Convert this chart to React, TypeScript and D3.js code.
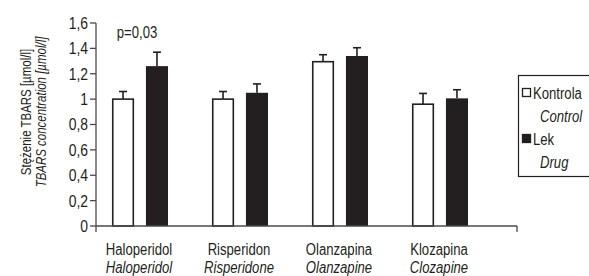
import React, { useRef, useEffect } from 'react';
import * as d3 from 'd3';

const drugsPl: string[] = ['Haloperidol', 'Risperidon', 'Olanzapina', 'Klozapina'];
const drugsEn: string[] = ['Haloperidol', 'Risperidone', 'Olanzapine', 'Clozapine'];
const seriesNames: string[] = ['Kontrola', 'Lek'];
const seriesNamesEn: string[] = ['Control', 'Drug'];
const controlValues: number[] = [1.0, 1.0, 1.295, 0.96];
const controlErrors: number[] = [0.06, 0.06, 0.055, 0.085];
const drugValues: number[] = [1.26, 1.05, 1.34, 1.006];
const drugErrors: number[] = [0.11, 0.07, 0.065, 0.068];
const yTicks: number[] = [0, 0.2, 0.4, 0.6, 0.8, 1, 1.2, 1.4, 1.6];

const FONT = '"Liberation Sans", Arial, sans-serif';
const NARROW = 0.82; // 좁은 글꼴 흉내

const App: React.FC = () => {
  const svgRef = useRef<SVGSVGElement | null>(null);

  useEffect(() => {
    if (svgRef.current) {
      const width = 589;
      const height = 276;
      const axisLeft = 96;
      const axisRight = 517;
      const ink = '#231f20';

      const svg = d3.select(svgRef.current)
        .attr('width', width)
        .attr('height', height)
        .style('font-family', FONT);

      svg.selectAll('*').remove();

      // 스케일
      const y = d3.scaleLinear().domain([0, 1.6]).range([226, 23]);
      const x0 = d3.scaleBand<string>().domain(drugsPl).range([96, 496]);
      const x1 = d3.scaleBand<string>().domain(seriesNames).range([16, 72]).paddingInner(0.35);

      const rows = drugsPl.map((d, i) => ({
        drug: d,
        items: [
          { key: seriesNames[0], value: controlValues[i], err: controlErrors[i] },
          { key: seriesNames[1], value: drugValues[i], err: drugErrors[i] },
        ],
      }));

      const groups = svg.append('g')
        .selectAll('g')
        .data(rows)
        .join('g')
        .attr('transform', d => `translate(${x0(d.drug)},0)`);

      // 에러바
      groups.selectAll('g.err')
        .data(d => d.items)
        .join('g')
        .attr('class', 'err')
        .each(function (d) {
          const cx = (x1(d.key) as number) + x1.bandwidth() / 2;
          const g = d3.select(this);
          g.append('line')
            .attr('x1', cx).attr('x2', cx)
            .attr('y1', y(d.value)).attr('y2', y(d.value + d.err))
            .attr('stroke', ink).attr('stroke-width', 1.6);
          g.append('line')
            .attr('x1', cx - 4).attr('x2', cx + 4)
            .attr('y1', y(d.value + d.err)).attr('y2', y(d.value + d.err))
            .attr('stroke', ink).attr('stroke-width', 1.6);
        });

      groups.selectAll('rect')
        .data(d => d.items)
        .join('rect')
        .attr('x', d => (x1(d.key) as number) + (d.key === 'Kontrola' ? 0.75 : 0))
        .attr('width', d => x1.bandwidth() - (d.key === 'Kontrola' ? 1.5 : 0))
        .attr('y', d => y(d.value))
        .attr('height', d => y(0) - y(d.value))
        .attr('fill', d => (d.key === 'Kontrola' ? '#ffffff' : ink))
        .attr('stroke', d => (d.key === 'Kontrola' ? ink : 'none'))
        .attr('stroke-width', 1.6);

      // 축
      const axisColor = '#4a4a4a';
      svg.append('line')
        .attr('x1', axisLeft).attr('x2', axisLeft)
        .attr('y1', y(1.6)).attr('y2', y(0) + 6)
        .attr('stroke', axisColor).attr('stroke-width', 1.3);
      svg.append('line')
        .attr('x1', axisLeft).attr('x2', axisRight)
        .attr('y1', y(0)).attr('y2', y(0))
        .attr('stroke', axisColor).attr('stroke-width', 1.3);
      svg.append('line')
        .attr('x1', axisRight).attr('x2', axisRight)
        .attr('y1', y(0)).attr('y2', y(0) + 6)
        .attr('stroke', axisColor).attr('stroke-width', 1.3);

      const yAxis = svg.append('g');
      yAxis.selectAll('line')
        .data(yTicks)
        .join('line')
        .attr('x1', axisLeft - 6).attr('x2', axisLeft)
        .attr('y1', d => y(d)).attr('y2', d => y(d))
        .attr('stroke', axisColor).attr('stroke-width', 1.3);
      yAxis.selectAll('text')
        .data(yTicks)
        .join('text')
        .attr('x', axisLeft - 8)
        .attr('y', d => y(d) + 6)
        .attr('text-anchor', 'end')
        .attr('font-size', 17)
        .text(d => String(Math.round(d * 10) / 10).replace('.', ','));

      // 카테고리 라벨
      const labels = svg.append('g');
      labels.selectAll('text.pl')
        .data(drugsPl)
        .join('text')
        .attr('class', 'pl')
        .attr('x', d => (x0(d) as number) + 43)
        .attr('y', 255)
        .attr('text-anchor', 'middle')
        .attr('font-size', 16)
        .text(d => d);
      labels.selectAll('text.en')
        .data(drugsEn)
        .join('text')
        .attr('class', 'en')
        .attr('x', (d, i) => (x0(drugsPl[i]) as number) + 43)
        .attr('y', 273)
        .attr('text-anchor', 'middle')
        .attr('font-size', 16)
        .attr('font-style', 'italic')
        .text(d => d);

      // p 값
      svg.append('text')
        .attr('x', (x0(drugsPl[0]) as number) + 41)
        .attr('y', 38)
        .attr('text-anchor', 'middle')
        .attr('font-size', 16)
        .text('p=0,03');

      // y축 제목
      const yTitle = svg.append('g').attr('transform', 'translate(0,112) rotate(-90)');
      yTitle.append('text')
        .attr('x', 0).attr('y', 31)
        .attr('text-anchor', 'middle')
        .attr('font-size', 14)
        .text('Stężenie TBARS [µmol/l]');
      yTitle.append('text')
        .attr('x', 0).attr('y', 46)
        .attr('text-anchor', 'middle')
        .attr('font-size', 14)
        .attr('font-style', 'italic')
        .text('TBARS concentration [µmol/l]');

      // 범례 (오른쪽 끝이 화면 밖으로 나감)
      const legend = svg.append('g');
      legend.append('rect')
        .attr('x', 518.5).attr('y', 75.5)
        .attr('width', 80).attr('height', 101)
        .attr('fill', '#fff').attr('stroke', ink).attr('stroke-width', 1.2);
      seriesNames.forEach((s, i) => {
        const base = 99 + i * 46;
        legend.append('rect')
          .attr('x', 522.5).attr('y', base - 10.5)
          .attr('width', 8).attr('height', 8)
          .attr('fill', i === 0 ? '#fff' : ink)
          .attr('stroke', ink).attr('stroke-width', 1.3);
        legend.append('text')
          .attr('x', 533).attr('y', base)
          .attr('font-size', 16)
          .text(s);
        legend.append('text')
          .attr('x', 540).attr('y', base + 23)
          .attr('font-size', 16)
          .attr('font-style', 'italic')
          .text(seriesNamesEn[i]);
      });

      // 모든 텍스트를 가로로 좁게 (x 기준)
      svg.selectAll<SVGTextElement, unknown>('text')
        .attr('fill', ink)
        .attr('transform', function () {
          const x = +(this.getAttribute('x') || 0);
          return `translate(${x},0) scale(${NARROW},1) translate(${-x},0)`;
        });
    }
  }, []);

  return <svg ref={svgRef} style={{ position: 'absolute', left: 0, top: 0 }}></svg>;
};

export default App;
